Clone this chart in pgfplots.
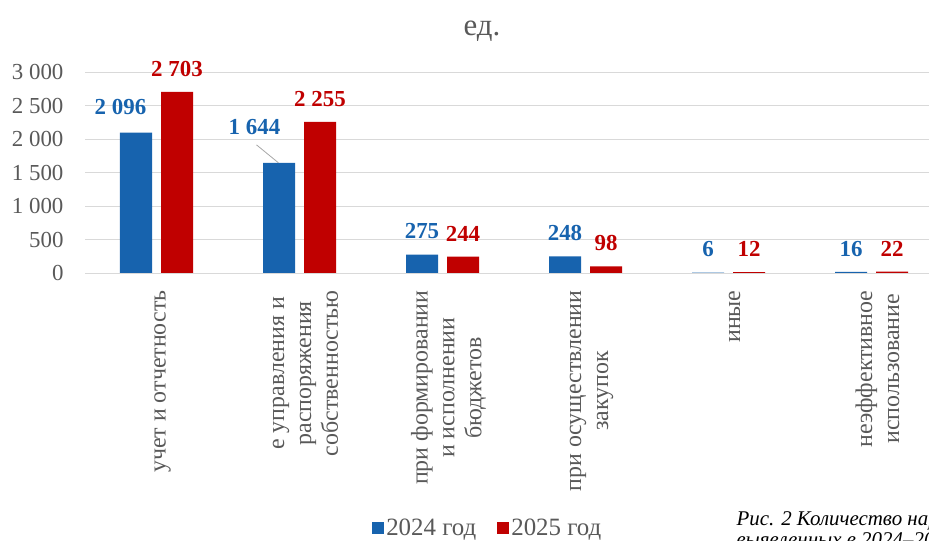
\documentclass[border=0pt]{standalone}
\usepackage{pgfplots}
\pgfplotsset{compat=1.18}
\usepackage{fontspec}
\setmainfont{Liberation Serif}
\definecolor{cblue}{RGB}{23,99,174}
\definecolor{cred}{RGB}{192,0,0}
\definecolor{ctext}{RGB}{89,89,89}
\definecolor{cgrid}{RGB}{217,217,217}
\begin{document}
\begin{tikzpicture}
\useasboundingbox (0,0) rectangle (929bp,541bp);
\node[text=ctext, font=\fontsize{31}{35}\selectfont] at (482bp,510bp) {ед.};
\begin{axis}[
  at={(85bp,268bp)}, anchor=south west,
  scale only axis, width=858bp, height=201bp,
  xmin=-0.5, xmax=5.5, ymin=0, ymax=3000,
  axis line style={draw=none},
  ymajorgrids, grid style={cgrid, line width=1pt},
  ytick={0,500,...,3000},
  xtick={0,...,5},
  xticklabels={{учет и отчетность},{е управления и\\распоряжения\\собственностью},{при формировании\\и исполнении\\бюджетов},{при осуществлении\\закупок},{иные},{неэффективное\\использование}},
  major tick length=0pt,
  /pgf/number format/.cd, 1000 sep={\ }, assume math mode=true, /pgfplots/.cd,
  yticklabel style={text=ctext, font=\fontsize{23}{27}\selectfont, anchor=east, xshift=-18bp},
  xticklabel style={rotate=90, anchor=east, align=center, text=ctext, font=\fontsize{24}{27}\selectfont, xshift=-14bp, yshift=-6bp},
  ybar=9bp, bar width=32bp,
  nodes near coords, point meta=explicit symbolic,
  every node near coord/.append style={font=\fontsize{23}{27}\selectfont\bfseries, anchor=south, yshift=12bp},
  legend style={at={(0.4695,-1.268)}, anchor=center, draw=none, legend columns=2, text=ctext, font=\fontsize{25}{29}\selectfont, /tikz/every even column/.append style={column sep=19bp}},
  legend image code/.code={\fill[#1] (0bp,-6bp) rectangle (12bp,6bp);},
]
\addplot[fill=cblue, draw=none, nodes near coords style={text=cblue}] coordinates {
 (0,2096) [\phantom{0}] (1,1644) [\phantom{0}] (2,275) [275] (3,248) [248] (4,6) [6] (5,16) [16]};
\addplot[fill=cred, draw=none, nodes near coords style={text=cred}] coordinates {
 (0,2703) [2 703] (1,2255) [2 255] (2,244) [244] (3,98) [98] (4,12) [12] (5,22) [22]};
\legend{2024 год, 2025 год}
\draw[gray!70, line width=0.8pt] (axis cs:0.853,1644) -- (axis cs:0.699,1913);
\node[text=cblue, font=\fontsize{23}{27}\selectfont\bfseries] at (axis cs:0,2096) [xshift=-36bp, yshift=26bp] {2 096};
\node[text=cblue, font=\fontsize{23}{27}\selectfont\bfseries] at (axis cs:1,1644) [xshift=-45bp, yshift=36bp] {1 644};
\end{axis}
\node[anchor=base west, font=\fontsize{21}{25}\selectfont\itshape, align=left] at (733bp,16bp) {Рис. 2 Количество нарушений,};
\node[anchor=base west, font=\fontsize{21}{25}\selectfont\itshape, align=left] at (733bp,-5bp) {выявленных в 2024–2025 годах};
\end{tikzpicture}
\end{document}
